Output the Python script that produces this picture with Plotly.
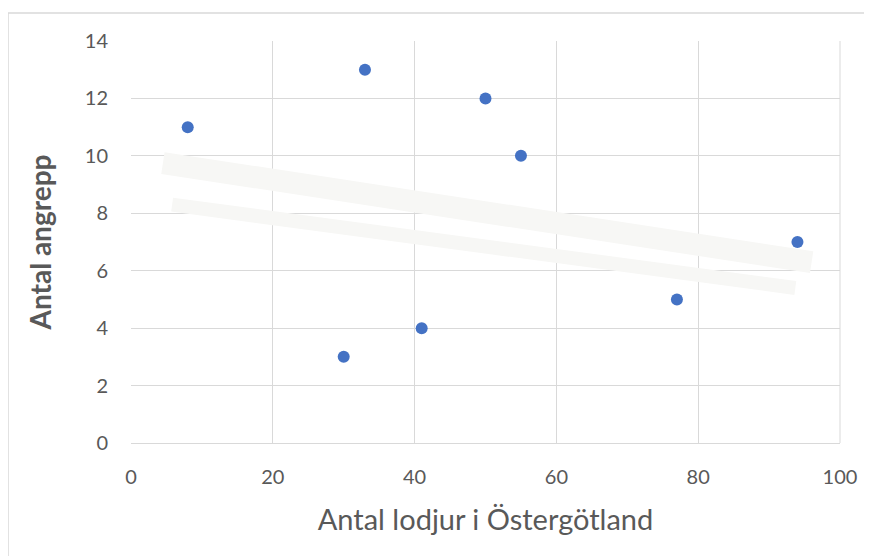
import plotly.graph_objects as go

# Data
lodjur = [8, 33, 50, 55, 94, 77, 41, 30]
angrepp = [11, 13, 12, 10, 7, 5, 4, 3]

# Faint (erased) trend lines visible in the picture
band1_x = [4.5, 96]
band1_y = [9.75, 6.3]
band2_x = [5.8, 93.7]
band2_y = [8.3, 5.4]

x_ticks = [0, 20, 40, 60, 80, 100]
y_ticks = [0, 2, 4, 6, 8, 10, 12, 14]

FONT = "Lato"
GRAY = "#595959"

L, R, T, B = 123, 40, 33, 121
PW = 872 - L - R
PH = 556 - T - B

fig = go.Figure()
fig.add_trace(go.Scatter(x=band1_x, y=band1_y, mode="lines",
                         line=dict(color="#f7f7f5", width=22), hoverinfo="skip"))
fig.add_trace(go.Scatter(x=band2_x, y=band2_y, mode="lines",
                         line=dict(color="#f7f7f5", width=14), hoverinfo="skip"))
fig.add_trace(go.Scatter(x=lodjur, y=angrepp, mode="markers",
                         marker=dict(color="#4472C4", size=12)))

fig.update_layout(
    width=872, height=556,
    margin=dict(l=L, r=R, t=T, b=B),
    paper_bgcolor="white", plot_bgcolor="white",
    showlegend=False,
    font=dict(family=FONT, color=GRAY),
    xaxis=dict(range=[0, 100], tickvals=x_ticks, showgrid=True, gridcolor="#d9d9d9",
               gridwidth=1, zeroline=False, showline=True, linecolor="#d9d9d9",
               ticks="", ticklabelstandoff=16, tickfont=dict(size=20, color=GRAY),
               title=dict(text="Antal lodjur i Östergötland", font=dict(size=29, color=GRAY),
                          standoff=22)),
    yaxis=dict(range=[0, 14], tickvals=y_ticks, showgrid=True, gridcolor="#d9d9d9",
               gridwidth=1, zeroline=False, showline=False,
               ticks="", ticklabelstandoff=22, tickfont=dict(size=20, color=GRAY),
               title=dict(text="<b>Antal angrepp</b>", font=dict(size=28, color=GRAY),
                          standoff=24)),
    shapes=[
        dict(type="line", xref="paper", yref="paper", x0=1, x1=1, y0=0, y1=1,
             line=dict(color="#d9d9d9", width=1)),
        dict(type="rect", xref="paper", yref="paper",
             x0=(0 - L) / PW, x1=1.3, y0=-0.6, y1=1 + (T - 5) / PH,
             line=dict(color="#d9d9d9", width=1.5), layer="below"),
    ],
)

fig.write_html("out.html")
